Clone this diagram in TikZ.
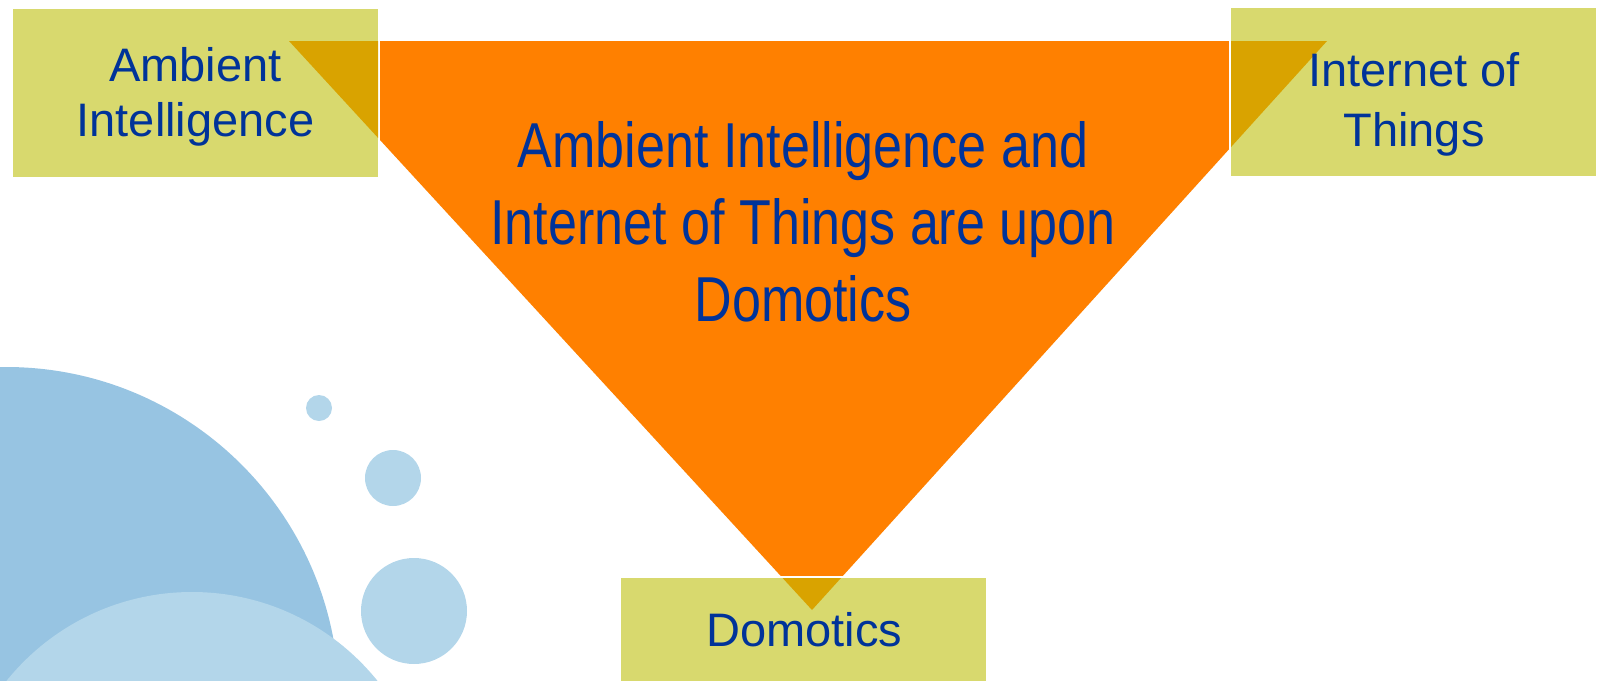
\documentclass[tikz,border=0pt]{standalone}
\usepackage{fontspec}
\setmainfont{Liberation Sans}
\newfontfamily\narrowsans[FakeStretch=0.82]{Liberation Sans}
\usetikzlibrary{calc,positioning}
\definecolor{domorange}{HTML}{FF8000}
\definecolor{boxgreen}{HTML}{D8D96E}
\definecolor{overlapgold}{HTML}{D9A300}
\definecolor{labelblue}{HTML}{003399}
\definecolor{bubbledark}{HTML}{97C4E2}
\definecolor{bubblelight}{HTML}{B3D6EA}
\newcommand{\boxfont}{\fontsize{47}{55}\selectfont}

\begin{document}
\begin{tikzpicture}[x=1pt,y=-1pt,
    boxfill/.style={fill=boxgreen,draw=white,line width=2pt},
    boxtext/.style={text=labelblue,align=center,inner sep=0pt}]
    \useasboundingbox (0,0) rectangle (1602,680);
    \clip (0,0) rectangle (1602,680);

    % bubbles in the corner
    \fill[bubbledark] (6,700) circle (333);
    \fill[bubblelight] (192,830) circle (238);
    \fill[bubblelight] (319,408) circle (13);
    \fill[bubblelight] (393,478) circle (28);
    \fill[bubblelight] (414,611) circle (53);

    % the inverted triangle
    \fill[domorange] (289,41) coordinate (t0) -- (1327,41) coordinate (t1)
      -- (812,610) coordinate (t2) -- cycle;

    % the three boxes, overlap with the triangle in a darker tone
    \foreach \xa/\ya/\xb/\yb in {12/8/379/178,1230/7/1597/177,620/577/987/684}{
      \draw[boxfill] (\xa,\ya) rectangle (\xb,\yb);
      \begin{scope}
        \clip (\xa+1,\ya+1) rectangle (\xb-1,\yb-1);
        \fill[overlapgold] (t0) -- (t1) -- (t2) -- cycle;
      \end{scope}
    }

    \node[boxtext,font=\boxfont] (ambient) at (195.5,97) {Ambient\\Intelligence};
    \node[boxtext,font=\fontsize{47}{60}\selectfont] (iot) at (1414,104) {Internet of\\Things};
    \node[boxtext,font=\boxfont] (domotics) at (804.5,630) {Domotics};

    \node[boxtext,font=\narrowsans\fontsize{63.5}{77}\selectfont] (claim) at (803,222)
      {Ambient Intelligence and\\Internet of Things are upon\\Domotics};
  \end{tikzpicture}
\end{document}
